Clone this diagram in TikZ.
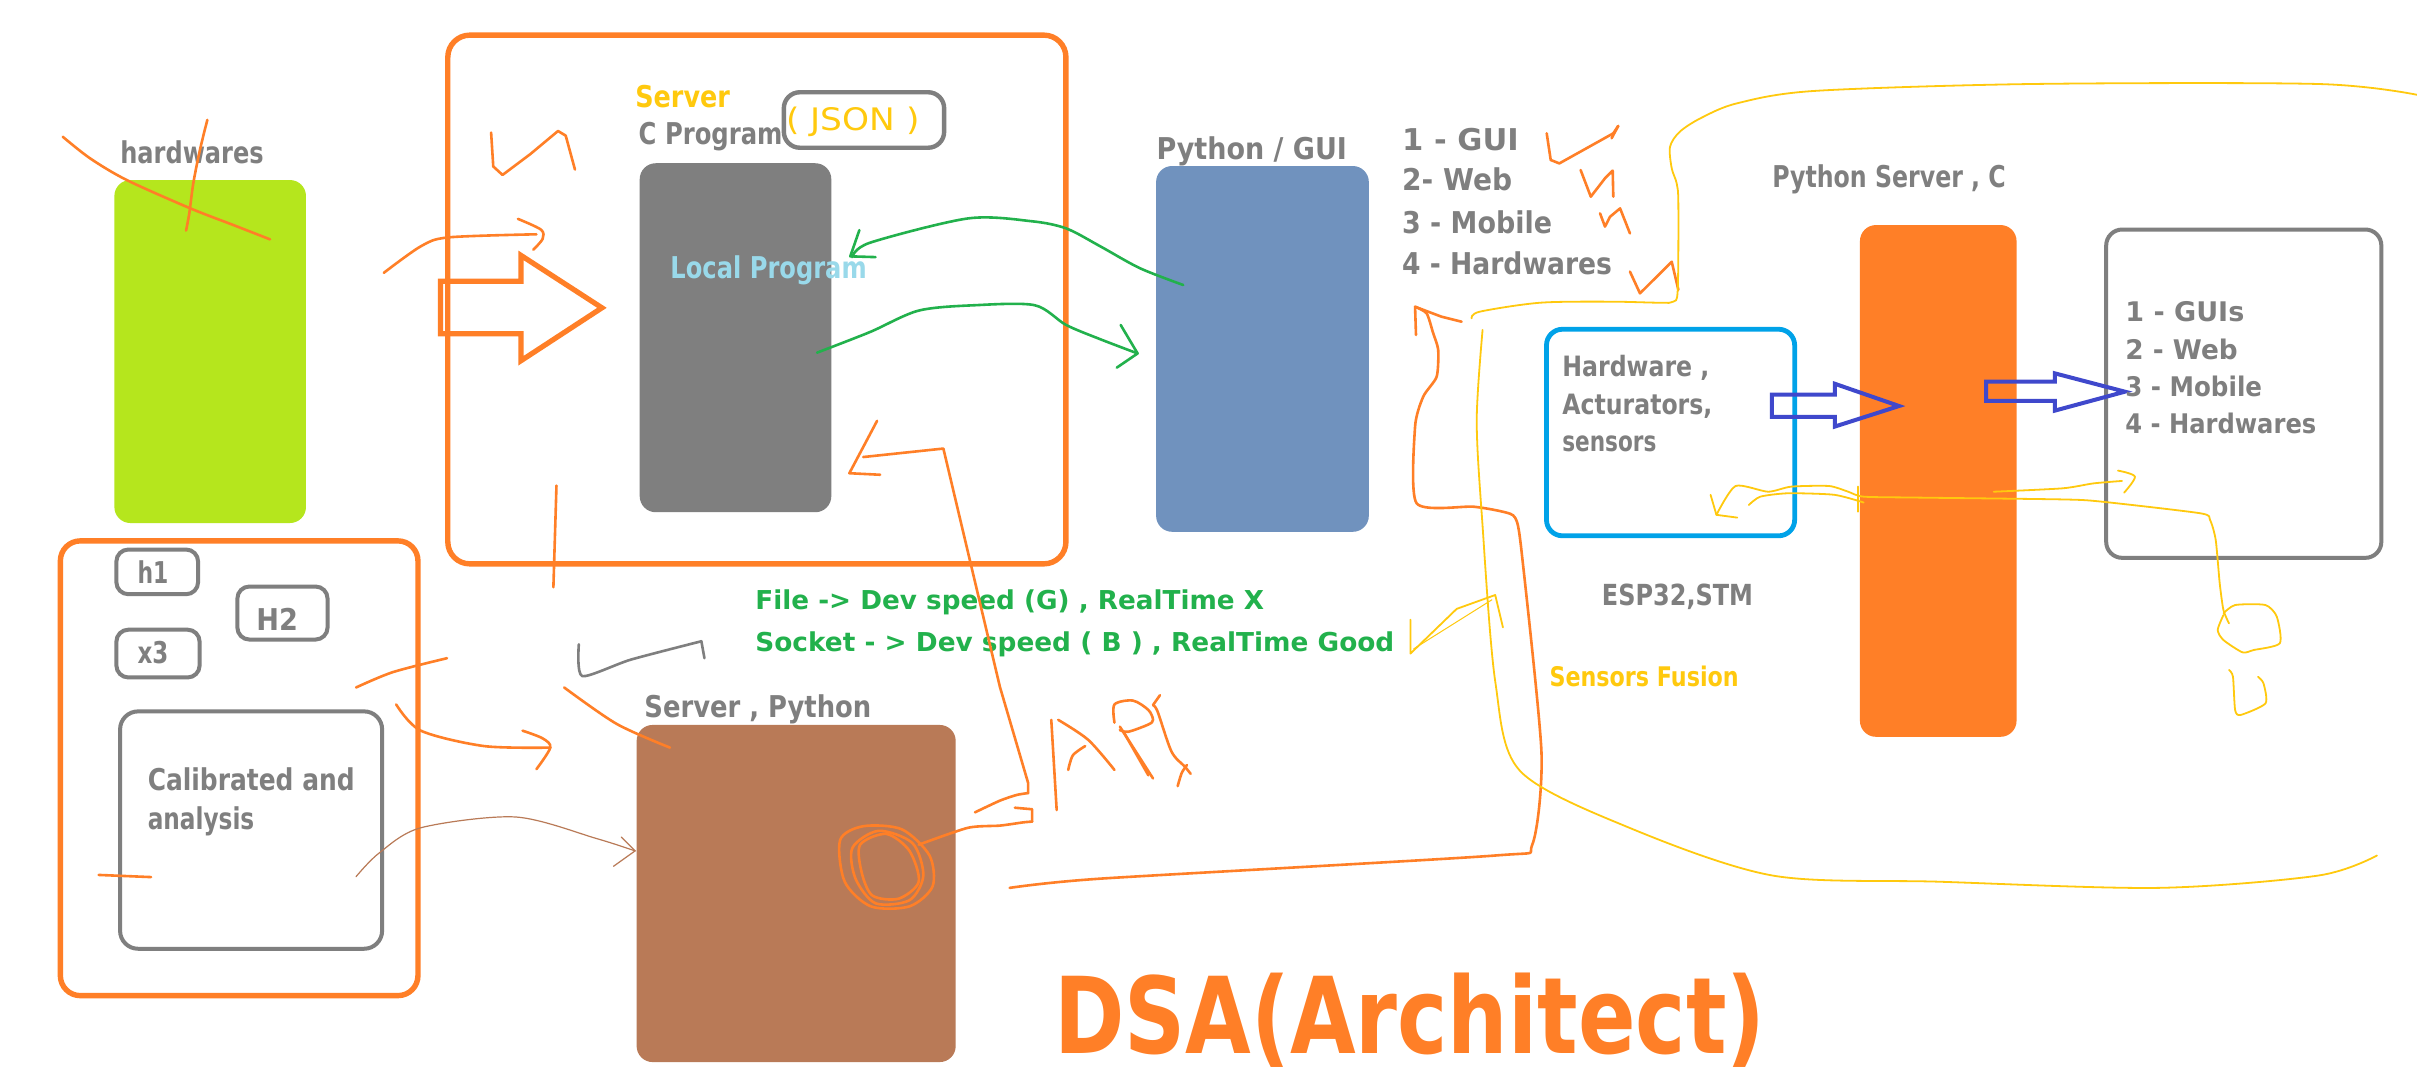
\documentclass[tikz,border=0pt]{standalone}
\usepackage{fontspec}
\setmainfont{DejaVu Sans}
\usepackage{graphicx}
\newlength\uu \setlength\uu{0.7707pt}
\newcommand\fitt[2]{\resizebox{#1\uu}{\height}{#2}}
\definecolor{cOr}{HTML}{FF7F27}
\definecolor{cLime}{HTML}{B5E61D}
\definecolor{cGray}{HTML}{7F7F7F}
\definecolor{cBlueR}{HTML}{7092BE}
\definecolor{cBrown}{HTML}{B97A57}
\definecolor{cYel}{HTML}{FFC90E}
\definecolor{cGreen}{HTML}{22B14C}
\definecolor{cLBlue}{HTML}{99D9EA}
\definecolor{cCyan}{HTML}{00A2E8}
\definecolor{cInd}{HTML}{3F48CC}
\tikzset{
  gt/.style={anchor=base west, inner sep=0pt, text=cGray, font=\fontsize{15}{18}\selectfont\bfseries},
  fbox/.style={inner sep=0pt, rounded corners=8pt},
  sk/.style={line width=1.3pt, line cap=round, line join=round},
  thin sk/.style={line width=0.9pt, line cap=round, line join=round},
}
\begin{document}
\begin{tikzpicture}[x=0.7707pt, y=-0.7707pt]
\fill[white] (0,0) rectangle (1568,702);
\useasboundingbox (0,0) rectangle (1568,702);

% ---------- boxes ----------
\node[fbox, fill=cLime, minimum width=124.3*\uu, minimum height=222.5*\uu] (hw) at (136.35,228.05) {};
\node[fbox, draw=cOr, line width=2.7pt, rounded corners=11pt, minimum width=401*\uu, minimum height=343*\uu] (cbox) at (491,194.3) {};
\node[fbox, draw=cGray, line width=2.2pt, minimum width=104*\uu, minimum height=36*\uu] (json) at (560.5,77.85) {};
\node[fbox, fill=cGray, minimum width=124.3*\uu, minimum height=226.4*\uu] (local) at (477.15,219.1) {};
\node[fbox, fill=cBlueR, minimum width=138*\uu, minimum height=237.3*\uu] (pygui) at (819,226.35) {};
\node[fbox, draw=cCyan, line width=2.4pt, minimum width=161*\uu, minimum height=134*\uu] (hwbox) at (1083.75,280.6) {};
\node[fbox, fill=cOr, minimum width=101.6*\uu, minimum height=332*\uu] (pyserv) at (1257.4,312) {};
\node[fbox, draw=cGray, line width=2pt, minimum width=178.5*\uu, minimum height=213*\uu] (outbox) at (1455.6,255.4) {};
\node[fbox, draw=cOr, line width=2.7pt, rounded corners=10pt, minimum width=232*\uu, minimum height=295*\uu] (leftbox) at (155.15,498.4) {};
\node[fbox, draw=cGray, line width=2pt, rounded corners=6pt, minimum width=53*\uu, minimum height=29*\uu] (h1) at (102,371) {};
\node[fbox, draw=cGray, line width=2pt, rounded corners=6pt, minimum width=58.5*\uu, minimum height=34.4*\uu] (h2) at (183.25,397.7) {};
\node[fbox, draw=cGray, line width=2pt, rounded corners=6pt, minimum width=54*\uu, minimum height=31*\uu] (x3) at (102.5,424) {};
\node[fbox, draw=cGray, line width=2pt, rounded corners=9pt, minimum width=170*\uu, minimum height=154*\uu] (calib) at (162.9,538.5) {};
\node[fbox, fill=cBrown, minimum width=207*\uu, minimum height=218.7*\uu] (serverpy) at (516.5,579.65) {};

% ---------- block arrows ----------
\draw[cOr, line width=2.6pt, line join=miter] (285.8,182.5) -- (338,182.5) -- (338,165.7) -- (390.5,199.7) -- (338,234) -- (338,216.5) -- (285.8,216.5) -- cycle;
\draw[cInd, line width=2pt, line join=miter] (1149.5,256) -- (1190.4,256) -- (1190.4,249) -- (1232,263.4) -- (1190.4,276.7) -- (1190.4,270.5) -- (1149.5,270.5) -- cycle;
\draw[cInd, line width=2pt, line join=miter] (1288.4,247.6) -- (1333,247.6) -- (1333,242.2) -- (1378.5,254.1) -- (1333,266.4) -- (1333,260.1) -- (1288.4,260.1) -- cycle;

% ---------- texts ----------
\node[gt] (thw) at (77.8,105.8) {\fitt{93}{hardwares}};
\node[gt, text=cYel] (tsrv) at (411.9,69.5) {\fitt{61.4}{Server}};
\node[gt] (tcp) at (414.1,93.8) {\fitt{93.3}{C Program}};
\node[gt, text=cYel, font=\fontsize{15.5}{18}\selectfont] (tjs) at (509.7,84.5) {\fitt{86.5}{( JSON )}};
\node[gt, text=cLBlue] (tlp) at (434.7,180.7) {\fitt{127.3}{Local Program}};
\node[gt] (tpg) at (750,103.8) {\fitt{123.6}{Python / GUI}};
\node[gt] (l1) at (909.3,97.7) {\fitt{75.7}{1 - GUI}};
\node[gt] (l2) at (909.3,123.9) {\fitt{71.4}{2- Web}};
\node[gt] (l3) at (909.3,151.4) {\fitt{97.3}{3 - Mobile}};
\node[gt] (l4) at (909.3,177.8) {\fitt{136.2}{4 - Hardwares}};
\node[gt] (tps) at (1149.5,121.6) {\fitt{151.5}{Python Server , C}};
\node[gt, font=\fontsize{14}{17}\selectfont\bfseries] (hw1) at (1013.3,244.4) {\fitt{95.4}{Hardware ,}};
\node[gt, font=\fontsize{14}{17}\selectfont\bfseries] (hw2) at (1013.3,269) {\fitt{97.3}{Acturators,}};
\node[gt, font=\fontsize{14}{17}\selectfont\bfseries] (hw3) at (1013.3,293) {\fitt{61}{sensors}};
\node[gt, font=\fontsize{13.5}{16}\selectfont\bfseries] (r1) at (1378.5,208.7) {\fitt{77.2}{1 - GUIs}};
\node[gt, font=\fontsize{13.5}{16}\selectfont\bfseries] (r2) at (1378.5,233.1) {\fitt{72.9}{2 - Web}};
\node[gt, font=\fontsize{13.5}{16}\selectfont\bfseries] (r3) at (1378.5,257.3) {\fitt{88.7}{3 - Mobile}};
\node[gt, font=\fontsize{13.5}{16}\selectfont\bfseries] (r4) at (1378.5,281.5) {\fitt{123.9}{4 - Hardwares}};
\node[gt, font=\fontsize{14.5}{17}\selectfont\bfseries] (tesp) at (1039,392.5) {\fitt{98}{ESP32,STM}};
\node[gt, text=cYel, font=\fontsize{13.5}{16}\selectfont\bfseries] (tsf) at (1005,445.5) {\fitt{122.7}{Sensors Fusion}};
\node[gt, text=cGreen, font=\fontsize{13}{16}\selectfont\bfseries] (g1) at (489.8,395.7) {\fitt{330}{File -> Dev speed (G) , RealTime X}};
\node[gt, text=cGreen, font=\fontsize{13}{16}\selectfont\bfseries] (g2) at (489.8,422.8) {\fitt{414.5}{Socket - > Dev speed ( B ) , RealTime Good}};
\node[gt] (th1) at (89,378.7) {\fitt{20}{h1}};
\node[gt] (th2) at (166,408.8) {\fitt{27}{H2}};
\node[gt] (tx3) at (89,430.4) {\fitt{20}{x3}};
\node[gt] (tc1) at (95.6,512.9) {\fitt{134.2}{Calibrated and}};
\node[gt] (tc2) at (95.6,538.4) {\fitt{69.1}{analysis}};
\node[gt] (tspy) at (417.8,465.2) {\fitt{147.2}{Server , Python}};
\node[anchor=base west, inner sep=0pt, text=cOr, font=\fontsize{53}{60}\selectfont\bfseries] (title) at (683.5,683.3) {\fitt{461.5}{DSA(Architect)}};

% ---------- hand strokes: orange ----------
\draw[sk, cOr] plot[smooth] coordinates {(40.7,88.7) (58.4,102.7) (82.2,116.8) (123.3,135.1) (151.4,146) (175.2,155.3)};
\draw[sk, cOr] plot[smooth] coordinates {(134.5,77.8) (129.7,97.3) (125.4,118.9) (122.8,138.4) (120.7,149.6)};
\draw[sk, cOr] plot[smooth] coordinates {(249,177) (273,159.8) (291,154) (348,152)};
\draw[sk, cOr] plot[smooth] coordinates {(336,142) (351,149) (352,155) (346,162)};
\draw[sk, cOr] (318.6,86) -- (320,108) -- (326,113.5) -- (344,100) -- (362,85) -- (367,88) -- (373,110);
\draw[sk, cOr] (361,315) -- (359,381);
% long line from Server Python to list
\draw[sk, cOr] plot[smooth, tension=0.4] coordinates {(655,576) (714,570) (970,555) (994,548) (1000,488) (987,357) (983,336) (975,332) (955.8,328.7) (919,326.5) (918,276.8) (923.3,257.3) (932,244.4) (933,227) (929.7,216) (925.5,203.3) (918,199)};
\draw[sk, cOr] (918.6,217.3) -- (918,199) -- (935,205.4) -- (948.2,208.7);
% circle scribble and API
\draw[sk, cOr] plot[smooth cycle] coordinates {(545,545) (560,536) (585,538) (603,555) (605,575) (590,588) (565,588) (548,572)};
\draw[sk, cOr] plot[smooth cycle] coordinates {(553,550) (570,539) (592,547) (599,568) (590,584) (568,586) (555,570)};
\draw[sk, cOr] plot[smooth cycle] coordinates {(558,548) (575,541) (590,552) (596,572) (583,583) (566,581) (559,566)};
\draw[sk, cOr] plot[smooth, tension=0.4] coordinates {(596,548) (628,537) (648.7,535.6) (663.8,533.5) (669.6,533)};
\draw[sk, cOr] (669.6,533) -- (669.6,525) -- (658.4,524);
\draw[sk, cOr] plot[smooth, tension=0.4] coordinates {(632.5,527) (648.7,519.4) (659.6,515.7) (667,514.5)};
\draw[sk, cOr] (667,514.5) -- (667,508) -- (648.7,445.7) -- (612,291) -- (560,296.5);
\draw[sk, cOr] (569,273) -- (551,307) -- (571,308);
\draw[sk, cOr] (682,467) -- (685.5,525.5);
\draw[sk, cOr] plot[smooth] coordinates {(686.5,467) (706,480) (723,499.5)};
\draw[sk, cOr] plot[smooth] coordinates {(704,484) (696,490) (693,499.5)};
\draw[sk, cOr] plot[smooth] coordinates {(723,468.8) (723,457) (735,454.5) (745,460.6) (748,467) (745,470) (732,474.7) (726.5,473.6)};
\draw[sk, cOr] (726.5,471.4) -- (748,505);
\draw[sk, cOr] (729,475) -- (745,503);
\draw[sk, cOr] (752.5,451) -- (748,457.4);
\draw[sk, cOr] plot[smooth] coordinates {(748,457.4) (751,461.7) (760,487.6) (768.7,497.4) (772.4,502)};
\draw[sk, cOr] plot[smooth] coordinates {(770,496.3) (766.6,501.5) (764,510)};
% checkmarks
\draw[sk, cOr] (1003.4,86.5) -- (1006,103.8) -- (1011.6,106) -- (1046.6,86.5) -- (1049.8,81.7);
\draw[sk, cOr] (1045.5,89.7) -- (1049.8,81.7);
\draw[sk, cOr] (1025.4,110.3) -- (1032,127.6) -- (1041.2,115.7) -- (1046.2,110.7) -- (1046.6,127.6);
\draw[sk, cOr] (1038,138.4) -- (1041.2,147) -- (1044.5,140.6) -- (1051,135.2) -- (1057.4,151.4);
\draw[sk, cOr] (1057.4,176.2) -- (1063.9,190.3) -- (1077,177.3) -- (1084.5,169.8) -- (1088.8,188);
% bottom-left strokes
\draw[sk, cOr] plot[smooth] coordinates {(231,446) (255,436) (290,427)};
\draw[sk, cOr] plot[smooth] coordinates {(257,457) (273,474) (314,484) (357,485)};
\draw[sk, cOr] plot[smooth] coordinates {(339,474) (352,479) (357,485) (348,499)};
\draw[sk, cOr] plot[smooth] coordinates {(366,446) (400,469.6) (434.6,485)};
\draw[sk, cOr] (64,567.6) -- (98,569);
\draw[line width=0.6pt, cBrown, line cap=round] plot[smooth] coordinates {(231,568.7) (245.7,553.6) (273,537) (334.5,530) (387,544) (412,552)};
\draw[line width=0.6pt, cBrown, line cap=round] (403,543) -- (412,552) -- (398,562);
\draw[sk, cGray] plot[smooth, tension=0.4] coordinates {(375.5,418) (377.7,438.6) (409,428) (455,416)};
\draw[sk, cGray] (455,416) -- (457,427);

% ---------- green arrows ----------
\draw[sk, cGreen] plot[smooth] coordinates {(767.6,184.9) (739.5,174) (713.6,159.7) (691.7,148.2) (669,143.5) (628,141.7) (564.3,157.5) (552.9,166.8)};
\draw[sk, cGreen] (557.5,149.3) -- (551.6,166.3) -- (568,166.8);
\draw[sk, cGreen] plot[smooth] coordinates {(530,228.8) (564.4,215.4) (596,201.5) (632.6,198) (671.2,198) (691.6,210.8) (713.6,220) (738,229.3)};
\draw[sk, cGreen] (727,210.8) -- (738,229.3) -- (724.5,238.5);

% ---------- yellow strokes ----------
\draw[thin sk, cYel] plot[smooth, tension=0.5] coordinates {(954.7,206.5) (960,202.2) (999,196.4) (1044.5,195.7) (1077,196.4) (1085.5,195.7) (1088.4,188) (1088.8,131.9) (1087.7,118.9) (1084.5,109.2) (1083.4,95.2) (1089.8,85.4) (1103.8,76.4) (1127,67) (1177,59) (1318,54.5) (1504,54.5) (1568,61.5)};
\draw[thin sk, cYel] plot[smooth, tension=0.5] coordinates {(961.8,214) (958,272.5) (961.5,337) (970,442) (986,500) (1057,537) (1150,568) (1258,572) (1400,576) (1504,568) (1542,555)};
\draw[thin sk, cYel] (915,402) -- (915,424) -- (945,395) -- (970,386) -- (975,407);
\draw[line width=0.5pt, cYel] (917,421) -- (968,389);
\draw[thin sk, cYel] (1109.7,321) -- (1113.5,334) -- (1127,335.8);
\draw[thin sk, cYel] plot[smooth, tension=0.4] coordinates {(1113.5,334) (1125.9,315.3) (1147,319) (1162,315.7) (1186.6,315.3) (1199,319) (1209,322.2) (1243.6,322.8) (1338,324) (1363,325.4) (1427.5,333) (1433.7,337.3) (1437.4,350.3) (1440,378.4) (1442.4,395.7) (1446,404.4)};
\draw[thin sk, cYel] plot[smooth, tension=0.4] coordinates {(1134.5,327.6) (1142,322.2) (1160,320) (1190,321) (1209,326)};
\draw[thin sk, cYel] (1205.4,315.7) -- (1205.4,332);
\draw[thin sk, cYel] plot[smooth, tension=0.4] coordinates {(1293.4,319) (1338,316.8) (1358,313.6) (1376.6,312)};
\draw[thin sk, cYel] plot[smooth] coordinates {(1374,305.3) (1385,309.2) (1378,319.6)};
\draw[thin sk, cYel] plot[smooth, tension=0.4] coordinates {(1442.4,397.9) (1450,392.5) (1469.6,392.5) (1477,400) (1479,417.3) (1462,421.7) (1454.8,423.2) (1442.4,415.2) (1438.7,408.7) (1442.4,399)};
\draw[thin sk, cYel] plot[smooth, tension=0.4] coordinates {(1446,434.6) (1448.6,439) (1450,460.6) (1453.6,463.8) (1469.7,456.3) (1468.4,443.3) (1464.8,439)};
\end{tikzpicture}
\end{document}
